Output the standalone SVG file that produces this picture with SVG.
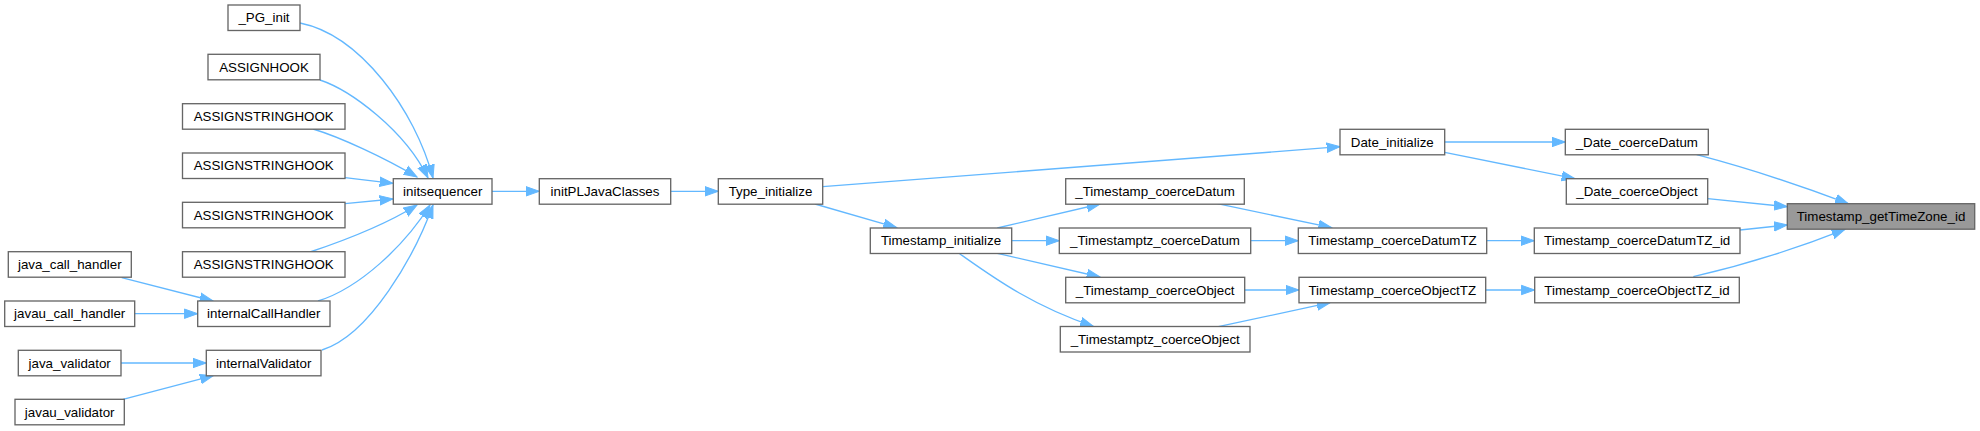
<svg xmlns="http://www.w3.org/2000/svg" width="1980" height="431" viewBox="0 0 1980 431">
<style>
.n rect{fill:#fff;stroke:#666;stroke-width:1.33}
.n.t rect{fill:#999}
.n text{font-family:"Liberation Sans",Arial,sans-serif;font-size:13.33px;fill:#000;text-anchor:middle}
#edges path{fill:none;stroke:#63b8ff;stroke-width:1.33;marker-end:url(#ah)}
</style>
<defs>
<marker id="ah" markerUnits="userSpaceOnUse" markerWidth="16" markerHeight="12" refX="13.3" refY="6" orient="auto" viewBox="0 0 16 12">
<path d="M0,1.3 L13.3,6 L0,10.7 z" fill="#63b8ff" stroke="#63b8ff" stroke-width="1"/>
</marker>
</defs>
<rect width="1980" height="431" fill="#fff"/>
<g id="edges">
<path d="M300,23 C360,35 415,110 433,178"/>
<path d="M320,80 C350,90 405,130 428,178"/>
<path d="M313,129 C340,137 385,158 417,177"/>
<path d="M345,177.7 L393,183.3"/>
<path d="M345,203.7 L393,199"/>
<path d="M310,252 C340,242 385,225 417,205"/>
<path d="M318,301 C360,288 405,245 430,205"/>
<path d="M322,350 C370,335 415,255 433,205"/>
<path d="M121.7,277.7 L213,301"/>
<path d="M134.7,313.7 L197.7,313.7"/>
<path d="M121,363 L206.3,363"/>
<path d="M123,399.3 L213.3,375.7"/>
<path d="M492,191.3 L539.3,191.3"/>
<path d="M670.7,191.3 L718.3,191.3"/>
<path d="M822.7,186.7 L1340,146.7"/>
<path d="M815,204 L896.7,227.7"/>
<path d="M997.3,228 L1100,204"/>
<path d="M1011.7,240.7 L1059.3,240.7"/>
<path d="M997.3,253.3 L1100,277"/>
<path d="M959,253.3 C990,275 1030,305 1093.3,326.3"/>
<path d="M1217.3,203.7 L1331.7,227.7"/>
<path d="M1250.7,240.7 L1298.3,240.7"/>
<path d="M1244.7,290 L1299,290"/>
<path d="M1218.3,326.7 L1330,302.7"/>
<path d="M1444.7,142 L1565.3,142"/>
<path d="M1444.7,152.3 L1575,178.7"/>
<path d="M1486.7,240.7 L1534.3,240.7"/>
<path d="M1485.7,290 L1534.7,290"/>
<path d="M1696.7,154.7 Q1770,174 1848.3,203.7"/>
<path d="M1707.7,198.7 L1787.3,206.7"/>
<path d="M1740,230 L1787.3,225"/>
<path d="M1693.3,276.7 Q1770,259 1845,229.3"/>
</g>
<g id="n_PG_init" class="n"><rect x="228" y="5" width="72" height="25.5"/><text x="264" y="22.2">_PG_init</text></g>
<g id="nASSIGNHOOK" class="n"><rect x="208" y="54.3" width="112" height="25.5"/><text x="264" y="71.5">ASSIGNHOOK</text></g>
<g id="nASSIGNSTRINGHOOK1" class="n"><rect x="182.5" y="103.7" width="162.5" height="25.5"/><text x="263.7" y="120.9">ASSIGNSTRINGHOOK</text></g>
<g id="nASSIGNSTRINGHOOK2" class="n"><rect x="182.5" y="153" width="162.5" height="25.5"/><text x="263.7" y="170.2">ASSIGNSTRINGHOOK</text></g>
<g id="nASSIGNSTRINGHOOK3" class="n"><rect x="182.5" y="202.3" width="162.5" height="25.5"/><text x="263.7" y="219.5">ASSIGNSTRINGHOOK</text></g>
<g id="nASSIGNSTRINGHOOK4" class="n"><rect x="182.5" y="251.7" width="162.5" height="25.5"/><text x="263.7" y="268.9">ASSIGNSTRINGHOOK</text></g>
<g id="njava_call_handler" class="n"><rect x="8.3" y="251.7" width="123" height="25.5"/><text x="69.8" y="268.9">java_call_handler</text></g>
<g id="njavau_call_handler" class="n"><rect x="4.7" y="301" width="130" height="25.5"/><text x="69.7" y="318.2">javau_call_handler</text></g>
<g id="ninternalCallHandler" class="n"><rect x="197.7" y="301" width="132.3" height="25.5"/><text x="263.8" y="318.2">internalCallHandler</text></g>
<g id="njava_validator" class="n"><rect x="18.3" y="350.3" width="102.7" height="25.5"/><text x="69.7" y="367.5">java_validator</text></g>
<g id="ninternalValidator" class="n"><rect x="206.3" y="350.3" width="114.7" height="25.5"/><text x="263.7" y="367.5">internalValidator</text></g>
<g id="njavau_validator" class="n"><rect x="15" y="399.3" width="109.3" height="25.5"/><text x="69.7" y="416.5">javau_validator</text></g>
<g id="ninitsequencer" class="n"><rect x="393.3" y="178.7" width="98.7" height="25.5"/><text x="442.7" y="195.9">initsequencer</text></g>
<g id="ninitPLJavaClasses" class="n"><rect x="539.3" y="178.7" width="131.4" height="25.5"/><text x="605" y="195.9">initPLJavaClasses</text></g>
<g id="nType_initialize" class="n"><rect x="718.3" y="178.7" width="104.4" height="25.5"/><text x="770.5" y="195.9">Type_initialize</text></g>
<g id="nTimestamp_initialize" class="n"><rect x="870.3" y="228" width="141.4" height="25.5"/><text x="941" y="245.2">Timestamp_initialize</text></g>
<g id="n_Timestamp_coerceDatum" class="n"><rect x="1065.7" y="178.7" width="178.6" height="25.5"/><text x="1155" y="195.9">_Timestamp_coerceDatum</text></g>
<g id="n_Timestamptz_coerceDatum" class="n"><rect x="1059.3" y="228" width="191.4" height="25.5"/><text x="1155" y="245.2">_Timestamptz_coerceDatum</text></g>
<g id="n_Timestamp_coerceObject" class="n"><rect x="1065.7" y="277.3" width="179" height="25.5"/><text x="1155.2" y="294.5">_Timestamp_coerceObject</text></g>
<g id="n_Timestamptz_coerceObject" class="n"><rect x="1060.3" y="326.5" width="189.7" height="25.5"/><text x="1155.2" y="343.7">_Timestamptz_coerceObject</text></g>
<g id="nDate_initialize" class="n"><rect x="1340" y="129.3" width="104.7" height="25.5"/><text x="1392.3" y="146.5">Date_initialize</text></g>
<g id="nTimestamp_coerceDatumTZ" class="n"><rect x="1298.3" y="228" width="188.4" height="25.5"/><text x="1392.5" y="245.2">Timestamp_coerceDatumTZ</text></g>
<g id="nTimestamp_coerceObjectTZ" class="n"><rect x="1299" y="277.3" width="186.7" height="25.5"/><text x="1392.3" y="294.5">Timestamp_coerceObjectTZ</text></g>
<g id="n_Date_coerceDatum" class="n"><rect x="1565.3" y="129.3" width="143" height="25.5"/><text x="1636.8" y="146.5">_Date_coerceDatum</text></g>
<g id="n_Date_coerceObject" class="n"><rect x="1566.3" y="178.7" width="141.4" height="25.5"/><text x="1637" y="195.9">_Date_coerceObject</text></g>
<g id="nTimestamp_coerceDatumTZ_id" class="n"><rect x="1534.3" y="228" width="205.7" height="25.5"/><text x="1637.2" y="245.2">Timestamp_coerceDatumTZ_id</text></g>
<g id="nTimestamp_coerceObjectTZ_id" class="n"><rect x="1534.7" y="277.3" width="204.6" height="25.5"/><text x="1637" y="294.5">Timestamp_coerceObjectTZ_id</text></g>
<g id="nTimestamp_getTimeZone_id" class="n t"><rect x="1787.3" y="203.7" width="187.4" height="25.5"/><text x="1881" y="220.9">Timestamp_getTimeZone_id</text></g>
</svg>
